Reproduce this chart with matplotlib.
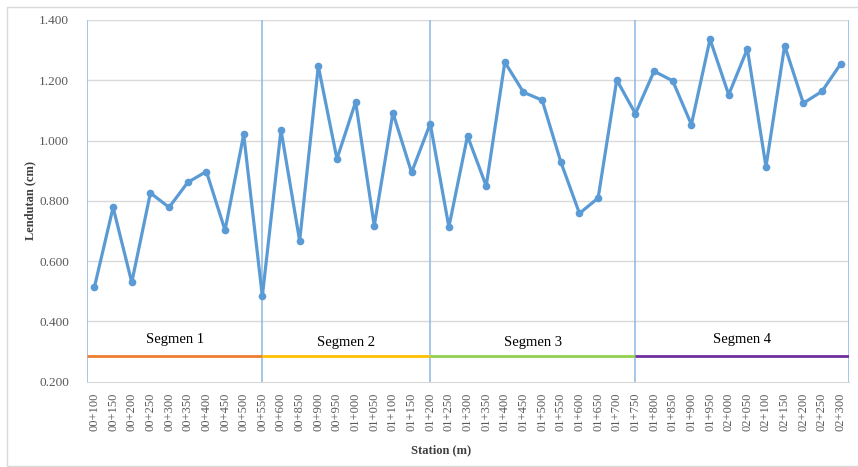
import matplotlib.pyplot as plt
from matplotlib.patches import Rectangle

# station labels (x axis)
stations = ["00+100", "00+150", "00+200", "00+250", "00+300", "00+350", "00+400",
            "00+450", "00+500", "00+550", "00+600", "00+850", "00+900", "00+950",
            "01+000", "01+050", "01+100", "01+150", "01+200", "01+250", "01+300",
            "01+350", "01+400", "01+450", "01+500", "01+550", "01+600", "01+650",
            "01+700", "01+750", "01+800", "01+850", "01+900", "01+950", "02+000",
            "02+050", "02+100", "02+150", "02+200", "02+250", "02+300"]
# lendutan (cm)
lendutan = [0.514, 0.778, 0.529, 0.826, 0.778, 0.861, 0.897, 0.702, 1.020, 0.483,
            1.035, 0.667, 1.247, 0.939, 1.128, 0.717, 1.092, 0.894, 1.056, 0.713,
            1.015, 0.849, 1.260, 1.160, 1.134, 0.929, 0.758, 0.809, 1.201, 1.089,
            1.230, 1.198, 1.053, 1.336, 1.152, 1.304, 0.913, 1.315, 1.124, 1.163,
            1.254]
# segments: name, start station, end station
seg_names = ["Segmen 1", "Segmen 2", "Segmen 3", "Segmen 4"]
seg_start = ["00+100", "00+550", "01+200", "01+750"]
seg_end = ["00+550", "01+200", "01+750", "02+300"]
seg_colors = ["#ED7D31", "#FFC000", "#92D050", "#7030A0"]
seg_level = 0.285
seg_text_y = [0.340, 0.330, 0.330, 0.340]

serif = ["Liberation Serif", "DejaVu Serif"]
x = list(range(len(stations)))
xmin, xmax = -0.4, len(stations) - 0.55

fig = plt.figure(figsize=(8.58, 4.67), dpi=100)
fig.patches.append(Rectangle((7 / 858, 1 / 467), 1.0, 1 - 8 / 467,
                             transform=fig.transFigure, fill=False,
                             edgecolor="#D9D9D9", lw=1))
ax = fig.add_axes([87 / 858, 1 - 381.5 / 467, 762 / 858, 361.5 / 467])

# horizontal grid
for g in [0.4, 0.6, 0.8, 1.0, 1.2, 1.4]:
    ax.axhline(g, color="#D9D9D9", lw=1, zorder=0)

# segment boundaries (vertical lines) and segment lines
bounds = [xmin] + [stations.index(s) for s in seg_end[:-1]] + [xmax]
for b in bounds:
    ax.axvline(b, color="#8DB8E2", lw=1.1, zorder=1)
for i, name in enumerate(seg_names):
    a = xmin if i == 0 else stations.index(seg_start[i])
    b = xmax if i == len(seg_names) - 1 else stations.index(seg_end[i])
    ax.plot([a, b], [seg_level, seg_level], color=seg_colors[i], lw=2, zorder=2,
            solid_capstyle="butt")
    ax.text((a + b) / 2, seg_text_y[i], name, ha="center", va="center",
            fontsize=10.5, family=serif, color="black")

ax.plot(x, lendutan, color="#5B9BD5", lw=2.3, marker="o", markersize=4.5, zorder=3)

ax.set_xlim(xmin, xmax)
ax.set_ylim(0.2, 1.4)
ax.set_yticks([0.2, 0.4, 0.6, 0.8, 1.0, 1.2, 1.4])
ax.set_yticklabels(["%.3f" % v for v in [0.2, 0.4, 0.6, 0.8, 1.0, 1.2, 1.4]],
                   family=serif, fontsize=9.5, color="#595959")
ax.set_xticks(x)
ax.set_xticklabels(stations, rotation=90, family=serif, fontsize=9, color="#595959")
ax.tick_params(axis="both", length=0)
ax.tick_params(axis="y", pad=13)
ax.tick_params(axis="x", pad=8)
for s in ["top", "right", "left"]:
    ax.spines[s].set_visible(False)
ax.spines["bottom"].set_color("#D9D9D9")

ax.set_ylabel("Lendutan (cm)", family=serif, fontweight="bold", fontsize=9,
              color="#404040")
ax.yaxis.set_label_coords(-0.066, 0.5)
ax.set_xlabel("Station (m)", family=serif, fontweight="bold", fontsize=9,
              color="#404040")
ax.xaxis.set_label_coords(0.465, -0.175)

fig.savefig("out.png", dpi=100)
